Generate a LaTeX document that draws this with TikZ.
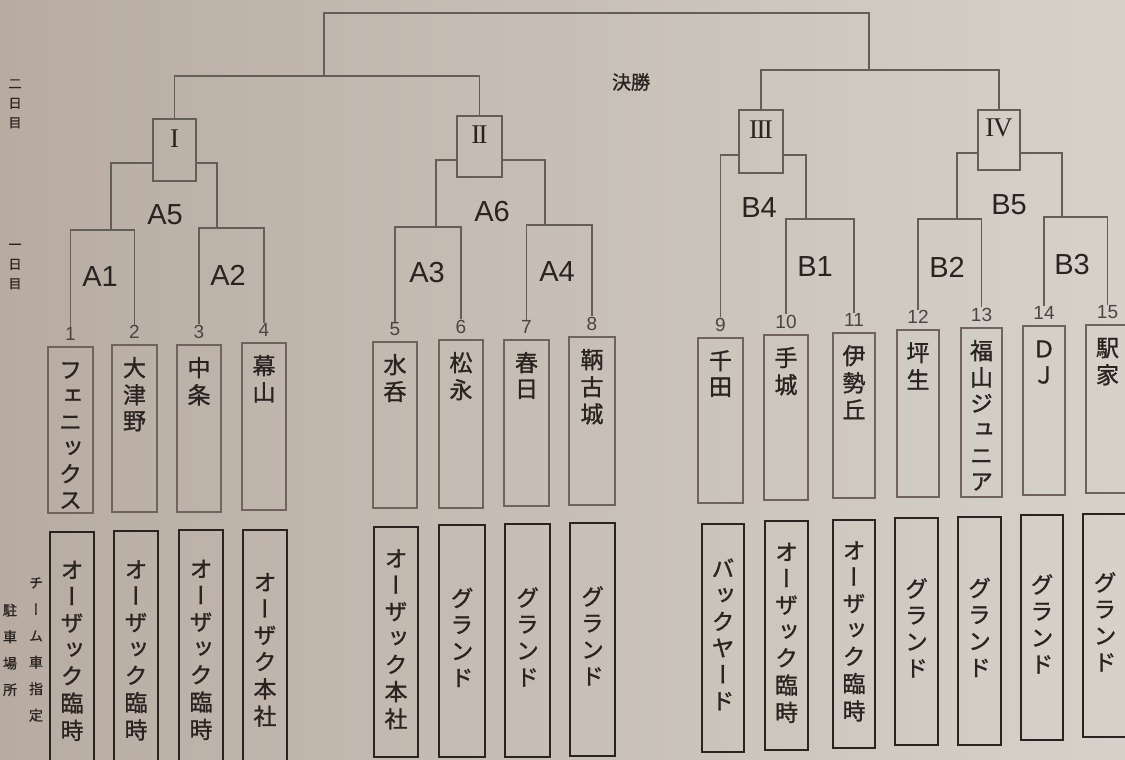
\documentclass[tikz,border=0pt]{standalone}
\usepackage{fontspec}
\setmainfont{Liberation Sans}
\newfontfamily\jp[FakeBold=1.2]{Noto Sans CJK JP}
\newfontfamily\vjp[RawFeature=+vert,FakeBold=1.2]{Noto Sans CJK JP}
\newfontfamily\vjpl[RawFeature=+vert,FakeBold=0.8]{Noto Sans CJK JP}
\newfontfamily\romf{Liberation Serif}
\newcommand{\vstk}[1]{\begin{tabular}[t]{@{}c@{}}#1\end{tabular}}
\newcommand{\vstc}[1]{\begin{tabular}{@{}c@{}}#1\end{tabular}}
\definecolor{paperL}{RGB}{184,172,162}
\definecolor{paperR}{RGB}{214,210,202}
\definecolor{ink}{RGB}{42,36,33}
\definecolor{thin}{RGB}{100,94,88}
\definecolor{tline}{RGB}{112,98,92}
\begin{document}
\begin{tikzpicture}[x=1pt,y=-1pt,
  br/.style={draw=thin, line width=1.1pt},
  rbox/.style={draw=thin, line width=1.1pt, inner sep=0pt},
  tbox/.style={draw=tline, line width=1.3pt, inner sep=0pt},
  pbox/.style={draw=ink, line width=2.4pt, inner sep=0pt},
  num/.style={font=\fontsize{19}{20}\selectfont, text=ink!85, inner sep=1pt},
  mlab/.style={font=\fontsize{29}{30}\selectfont, text=ink, inner sep=0pt},
  rom/.style={font=\romf\fontsize{27}{27}\selectfont, text=ink, inner sep=0pt},
  team/.style={font=\vjp\fontsize{23}{26}\selectfont, text=ink, inner sep=0pt, anchor=base},
  park/.style={font=\vjp\fontsize{23}{26.5}\selectfont, text=ink, inner sep=0pt},
  side/.style={font=\vjpl\fontsize{13}{19.5}\selectfont, text=ink, inner sep=0pt},
  side2/.style={font=\vjpl\fontsize{14}{26.5}\selectfont, text=ink, inner sep=0pt}]
\useasboundingbox (0,0) rectangle (1125,760);
\shade[left color=paperL,right color=paperR] (0,0) rectangle (1125,760);

% team boxes
\foreach \i/\cx/\cy/\w/\h in {1/70.5/430/45/166, 2/134.5/428.5/45/167, 3/199/428.5/44/167, 4/264/426.5/44/167, 5/395/425/44/166, 6/461/424/44/168, 7/526.5/423/45/166, 8/592/421/46/168, 9/720.5/420.5/45/165, 10/786/417.5/44/165, 11/854/415.5/42/165, 12/918/413.5/42/167, 13/981.5/412.5/41/169, 14/1044/410.5/42/169, 15/1107.5/409/43/168}
  \node[tbox, minimum width=\w pt, minimum height=\h pt] (t\i) at (\cx,\cy) {};
\foreach \i in {1,...,15}
  \node[num] (n\i) at ([yshift=12pt]t\i.north) {\i};

\node[team] (tn1) at ([yshift=-32pt]t1.north) {\vstk{フ\\ェ\\ニ\\ッ\\ク\\ス}};
\node[team] (tn2) at ([yshift=-32pt]t2.north) {\vstk{大\\津\\野}};
\node[team] (tn3) at ([yshift=-32pt]t3.north) {\vstk{中\\条}};
\node[team] (tn4) at ([yshift=-32pt]t4.north) {\vstk{幕\\山}};
\node[team] (tn5) at ([yshift=-32pt]t5.north) {\vstk{水\\呑}};
\node[team] (tn6) at ([yshift=-32pt]t6.north) {\vstk{松\\永}};
\node[team] (tn7) at ([yshift=-32pt]t7.north) {\vstk{春\\日}};
\node[team] (tn8) at ([yshift=-32pt]t8.north) {\vstk{鞆\\古\\城}};
\node[team] (tn9) at ([yshift=-32pt]t9.north) {\vstk{千\\田}};
\node[team] (tn10) at ([yshift=-32pt]t10.north) {\vstk{手\\城}};
\node[team] (tn11) at ([yshift=-32pt]t11.north) {\vstk{伊\\勢\\丘}};
\node[team] (tn12) at ([yshift=-32pt]t12.north) {\vstk{坪\\生}};
\node[team] (tn13) at ([yshift=-32pt]t13.north) {\vstk{福\\山\\ジ\\ュ\\ニ\\ア}};
\node[team] (tn14) at ([yshift=-32pt]t14.north) {\vstk{Ｄ\\Ｊ}};
\node[team] (tn15) at ([yshift=-32pt]t15.north) {\vstk{駅\\家}};

% parking boxes
\foreach \i/\cx/\cy/\w/\h in {1/72/653.5/44/243, 2/136/653/44/244, 3/201/652.5/44/245, 4/265/652.5/44/245, 5/396/642/44/230, 6/462/641/46/232, 7/527.5/640.5/45/233, 8/592.5/639.5/45/233, 9/723/638/42/228, 10/786.5/635.5/43/229, 11/854/634/42/228, 12/916.5/631.5/43/227, 13/979.5/631/43/228, 14/1042/627.5/42/225, 15/1105/625.5/44/223}
  \node[pbox, minimum width=\w pt, minimum height=\h pt] (p\i) at (\cx,\cy) {};

\node[park] (pn1) at (p1.center) {\vstc{オ\\ー\\ザ\\ッ\\ク\\臨\\時}};
\node[park] (pn2) at (p2.center) {\vstc{オ\\ー\\ザ\\ッ\\ク\\臨\\時}};
\node[park] (pn3) at (p3.center) {\vstc{オ\\ー\\ザ\\ッ\\ク\\臨\\時}};
\node[park] (pn4) at (p4.center) {\vstc{オ\\ー\\ザ\\ク\\本\\社}};
\node[park] (pn5) at (p5.center) {\vstc{オ\\ー\\ザ\\ッ\\ク\\本\\社}};
\node[park] (pn6) at (p6.center) {\vstc{グ\\ラ\\ン\\ド}};
\node[park] (pn7) at (p7.center) {\vstc{グ\\ラ\\ン\\ド}};
\node[park] (pn8) at (p8.center) {\vstc{グ\\ラ\\ン\\ド}};
\node[park] (pn9) at (p9.center) {\vstc{バ\\ッ\\ク\\ヤ\\ー\\ド}};
\node[park] (pn10) at (p10.center) {\vstc{オ\\ー\\ザ\\ッ\\ク\\臨\\時}};
\node[park] (pn11) at (p11.center) {\vstc{オ\\ー\\ザ\\ッ\\ク\\臨\\時}};
\node[park] (pn12) at (p12.center) {\vstc{グ\\ラ\\ン\\ド}};
\node[park] (pn13) at (p13.center) {\vstc{グ\\ラ\\ン\\ド}};
\node[park] (pn14) at (p14.center) {\vstc{グ\\ラ\\ン\\ド}};
\node[park] (pn15) at (p15.center) {\vstc{グ\\ラ\\ン\\ド}};

% side labels
\node[side] (day2) at (15,104) {\vstc{二\\日\\目}};
\node[side] (day1) at (15,265) {\vstc{一\\日\\目}};
\node[side2] (cars) at (36,649) {\vstc{チ\\ー\\ム\\車\\指\\定}};
\node[side2] (place) at (10,650) {\vstc{駐\\車\\場\\所}};

% round boxes
\node[rbox, minimum width=43pt, minimum height=62pt] (bI) at (174.5,150) {};
\node[rbox, minimum width=45pt, minimum height=61pt] (bII) at (479.5,146.5) {};
\node[rbox, minimum width=44pt, minimum height=63pt] (bIII) at (761,141.5) {};
\node[rbox, minimum width=42pt, minimum height=60pt] (bIV) at (999,140) {};
\node[rom] (rI) at (174.5,139) {I};
\node[rom] (rII) at (479.5,135) {I\kern-1.6ptI};
\node[rom] (rIII) at (761,130) {I\kern-1.6ptI\kern-1.6ptI};
\node[rom] (rIV) at (999,128) {I\kern-1.2ptV};
\node[font=\jp\fontsize{19}{19}\selectfont, text=ink, inner sep=0pt] (final) at (631,82) {決勝};

% first-round matches
\coordinate (A1) at (102,230);
\coordinate (A2) at (231,228);
\coordinate (A3) at (428,227);
\coordinate (A4) at (559,225);
\coordinate (B1) at (820,219);
\coordinate (B2) at (950,219);
\coordinate (B3) at (1076,217);
\draw[br] (n1.north) |- (A1) -| (n2.north);
\draw[br] (n3.north) |- (A2) -| (n4.north);
\draw[br] (n5.north) |- (A3) -| (n6.north);
\draw[br] (n7.north) |- (A4) -| (n8.north);
\draw[br] (n10.north) |- (B1) -| (n11.north);
\draw[br] (n12.north) |- (B2) -| (n13.north);
\draw[br] (n14.north) |- (B3) -| (n15.north);

% joints on first-round lines
\coordinate (a1j) at (111,230);
\coordinate (a2j) at (217,228);
\coordinate (a3j) at (436,227);
\coordinate (a4j) at (545,225);
\coordinate (b1j) at (806,219);
\coordinate (b2j) at (957,219);
\coordinate (b3j) at (1062,217);
\coordinate (A5) at (164,163);
\coordinate (A6) at (490,160);
\coordinate (B4) at (760,155);
\coordinate (B5) at (1009,153);
\draw[br] (a1j) |- (A5 -| bI.west);
\draw[br] (A5 -| bI.east) -| (a2j);
\draw[br] (a3j) |- (A6 -| bII.west);
\draw[br] (A6 -| bII.east) -| (a4j);
\draw[br] (n9.north) |- (B4 -| bIII.west);
\draw[br] (B4 -| bIII.east) -| (b1j);
\draw[br] (b2j) |- (B5 -| bIV.west);
\draw[br] (B5 -| bIV.east) -| (b3j);

% semifinals and final
\coordinate (SF1) at (324,76);
\coordinate (SF2) at (869,70);
\coordinate (F) at (596,13);
\draw[br] (bI.north) |- (SF1) -| (bII.north);
\draw[br] (bIII.north) |- (SF2) -| (bIV.north);
\draw[br] (SF1) |- (F) -| (SF2);

% match labels
\node[mlab] (lA1) at (100,277) {A1};
\node[mlab] (lA2) at (228,275) {A2};
\node[mlab] (lA3) at (427,273) {A3};
\node[mlab] (lA4) at (557,272) {A4};
\node[mlab] (lA5) at (165,215) {A5};
\node[mlab] (lA6) at (492,212) {A6};
\node[mlab] (lB1) at (815,267) {B1};
\node[mlab] (lB2) at (947,267) {B2};
\node[mlab] (lB3) at (1072,265) {B3};
\node[mlab] (lB4) at (759,208) {B4};
\node[mlab] (lB5) at (1009,205) {B5};
\end{tikzpicture}
\end{document}
